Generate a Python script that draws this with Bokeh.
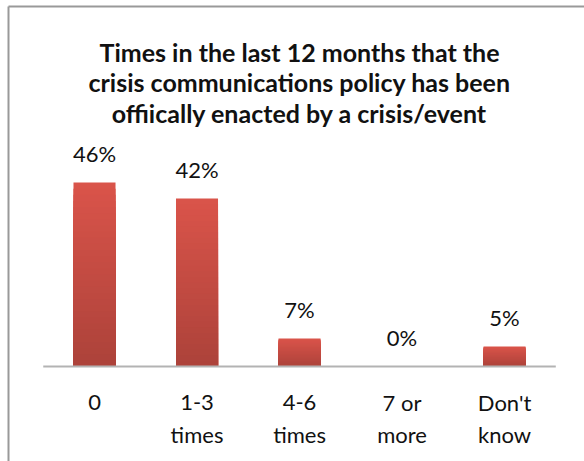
from bokeh.plotting import figure
from bokeh.models import Range1d, FixedTicker, LinearAxis, Label, ColumnDataSource
from bokeh.core.properties import value
from bokeh.embed import file_html
from bokeh.resources import INLINE

# ---- data ----
categories = ["0", "1-3\ntimes", "4-6\ntimes", "7 or\nmore", "Don't\nknow"]
percent = [46, 42, 7, 0, 5]
value_labels = ["46%", "42%", "7%", "0%", "5%"]
title_text = ("Times in the last 12 months that the\n"
              "crisis communications policy has been\n"
              "offiically enacted by a crisis/event")

FONT = "Lato"
TOP_RGB = (218, 84, 74)
BOT_RGB = (172, 66, 58)
N_STRIPS = 30

p = figure(width=584, height=461, output_backend="svg", toolbar_location=None,
           x_range=Range1d(-0.839, 4.78), y_range=Range1d(-23.75, 90),
           x_axis_location=None, y_axis_location=None,
           min_border_left=8, min_border_top=6, min_border_right=0, min_border_bottom=0)
p.grid.visible = False
p.outline_line_color = None
p.background_fill_color = "white"
p.border_fill_color = "white"

# border lines (left and top of the chart area)
for side in ("left", "above"):
    ax = LinearAxis(ticker=FixedTicker(ticks=[]), major_tick_out=0, major_tick_in=0,
                    minor_tick_out=0, minor_tick_in=0, major_label_standoff=0,
                    major_label_text_font_size="0px",
                    axis_line_color="#999999", axis_line_width=2)
    p.add_layout(ax, side)

# gradient bars: overlapping rects, tallest (lightest) first, shorter darker on top
xs, bottoms, tops, colors = [], [], [], []
for i, v in enumerate(percent):
    if v <= 0:
        continue
    for k in range(N_STRIPS - 1, -1, -1):
        t = (k + 0.5) / N_STRIPS  # 0 bottom -> 1 top
        c = tuple(int(round(BOT_RGB[j] + (TOP_RGB[j] - BOT_RGB[j]) * t)) for j in range(3))
        xs.append(i)
        bottoms.append(0)
        tops.append(v * (k + 1) / N_STRIPS)
        colors.append("#%02x%02x%02x" % c)
bars = ColumnDataSource(dict(x=xs, bottom=bottoms, top=tops, color=colors))
p.vbar(x="x", bottom="bottom", top="top", width=0.41, source=bars,
       fill_color="color", line_color=None)

# category axis line
p.segment(x0=[-0.5], x1=[len(categories) - 0.5], y0=[0], y1=[0],
          line_color="#b3b3b3", line_width=2)

# value labels
idx = list(range(len(categories)))
p.text(x=idx, y=percent, text=value_labels, text_align="center",
       text_baseline="alphabetic", y_offset=-29,
       text_font=value(FONT), text_font_size="22px", text_color="#111111")

# category labels (two lines)
line1 = [c.split("\n")[0] for c in categories]
line2 = [c.split("\n")[1] if "\n" in c else "" for c in categories]
zeros = [0] * len(categories)
p.text(x=idx, y=zeros, text=line1, text_align="center", text_baseline="alphabetic",
       y_offset=36, text_font=value(FONT), text_font_size="22px", text_color="#111111")
p.text(x=idx, y=zeros, text=line2, text_align="center", text_baseline="alphabetic",
       y_offset=68, text_font=value(FONT), text_font_size="22px", text_color="#111111")

# title
p.add_layout(Label(x=2, y=82.5, text=title_text, text_align="center",
                   text_baseline="top", text_font=FONT, text_font_style="bold",
                   text_font_size="25px", text_line_height=1.03, text_color="#111111"))

open("out.html", "w").write(file_html(p, INLINE))
